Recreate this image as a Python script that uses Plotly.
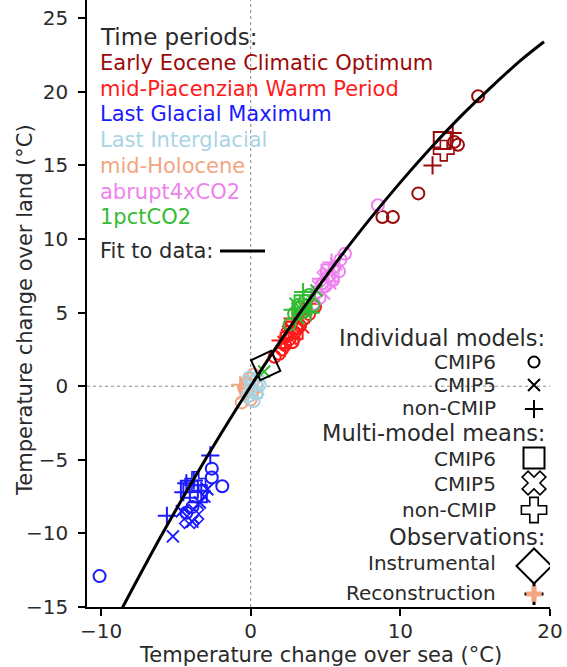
import plotly.graph_objects as go

# ---------------- DATA ----------------
# Fit to data line
fit_sea = [-8.6, -6, -4, -2, 0, 2, 4, 6, 8, 10, 12, 14, 16, 18, 19.6]
fit_land = [-15.1, -10.2, -6.65, -3.25, 0.0, 3.1, 6.0, 8.8, 11.4, 13.85, 16.15, 18.3, 20.25, 22.1, 23.4]

# Early Eocene Climatic Optimum
eeco_c6_sea = [15.2, 13.85, 13.6, 11.2, 8.8, 9.5]
eeco_c6_land = [19.7, 16.4, 16.6, 13.1, 11.5, 11.5]
eeco_nc_sea = [12.15, 13.5]
eeco_nc_land = [15.0, 17.2]
eeco_m6_sea = [12.8]
eeco_m6_land = [16.7]
eeco_mnc_sea = [12.9]
eeco_mnc_land = [16.0]

# mid-Piacenzian Warm Period
mpwp_c6_sea = [1.9, 2.3, 2.6, 2.9, 3.3, 3.6, 2.1, 2.8, 3.1, 2.4, 3.9, 4.3, 1.6]
mpwp_c6_land = [2.2, 2.8, 3.2, 3.6, 4.1, 4.6, 2.5, 3.0, 3.9, 3.4, 4.9, 5.4, 2.0]
mpwp_c5_sea = [2.2, 2.7, 3.2, 3.5, 2.5]
mpwp_c5_land = [3.0, 3.9, 4.3, 4.0, 3.7]
mpwp_nc_sea = [2.0, 2.8, 3.4, 3.0, 2.3, 4.0]
mpwp_nc_land = [3.1, 4.6, 4.9, 4.4, 2.6, 5.6]
mpwp_m6_sea = [2.9]
mpwp_m6_land = [3.8]
mpwp_m5_sea = [2.7]
mpwp_m5_land = [3.5]

# Last Glacial Maximum
lgm_c6_sea = [-2.6, -2.6, -1.9, -10.1, -3.9, -4.3]
lgm_c6_land = [-5.6, -6.2, -6.8, -12.9, -8.2, -8.6]
lgm_c5_sea = [-5.2, -3.4, -3.1, -4.6, -3.9, -2.9]
lgm_c5_land = [-10.2, -7.9, -7.5, -8.5, -9.2, -7.0]
lgm_nc_sea = [-2.7, -5.6, -4.3, -4.5, -3.8, -3.3]
lgm_nc_land = [-4.7, -8.8, -6.6, -7.2, -6.4, -7.1]
lgm_m6_sea = [-4.1, -3.5]
lgm_m6_land = [-7.0, -7.3]
lgm_m5_sea = [-4.1, -3.8]
lgm_m5_land = [-9.0, -8.7]
lgm_mnc_sea = [-3.7]
lgm_mnc_land = [-6.5]

# Last Interglacial
lig_c6_sea = [0.1, 0.4, -0.2, 0.6, 0.2, -0.1]
lig_c6_land = [0.3, -0.5, -0.7, 0.1, -1.0, 0.6]
lig_c5_sea = [0.5, 0.0]
lig_c5_land = [-0.2, -0.3]
lig_nc_sea = [0.3]
lig_nc_land = [0.7]
lig_m6_sea = [0.2]
lig_m6_land = [-0.2]

# mid-Holocene
mh_c6_sea = [-0.4, -0.1, 0.2, -0.6, 0.0, -0.3]
mh_c6_land = [-0.2, 0.5, 0.8, -1.1, -0.9, 0.2]
mh_c5_sea = [-0.5, 0.1]
mh_c5_land = [-0.5, 0.3]
mh_nc_sea = [-0.7, 0.2]
mh_nc_land = [0.1, -0.4]
mh_m6_sea = [-0.1]
mh_m6_land = [-0.1]
mh_m5_sea = [0.0]
mh_m5_land = [0.0]

# abrupt4xCO2
a4x_c6_sea = [4.4, 4.8, 5.2, 5.6, 6.0, 6.3, 5.0, 5.5, 4.6, 5.9, 8.5, 4.2]
a4x_c6_land = [6.4, 7.0, 7.5, 8.1, 8.6, 9.0, 6.8, 7.2, 6.0, 7.8, 12.3, 5.6]
a4x_c5_sea = [4.5, 5.1, 5.7, 4.9, 5.3]
a4x_c5_land = [6.8, 7.8, 8.3, 6.3, 7.0]
a4x_nc_sea = [5.4, 4.7]
a4x_nc_land = [8.4, 7.3]
a4x_m6_sea = [5.3]
a4x_m6_land = [7.7]
a4x_m5_sea = [5.1]
a4x_m5_land = [7.4]

# 1pctCO2
p1_c6_sea = [2.9, 3.3, 3.6, 3.9, 3.4, 4.2, 2.6]
p1_c6_land = [4.9, 5.4, 5.8, 6.2, 5.0, 5.5, 4.2]
p1_c5_sea = [3.0, 3.7, 4.4, 3.2, 0.9]
p1_c5_land = [5.6, 5.2, 6.5, 4.6, 1.0]
p1_nc_sea = [3.5, 2.8, 4.0]
p1_nc_land = [6.4, 5.2, 5.0]
p1_m6_sea = [3.5]
p1_m6_land = [5.6]
p1_m5_sea = [3.4]
p1_m5_land = [5.3]

# Observations: instrumental
obs_sea = [1.0]
obs_land = [1.4]

x_ticks = [-10, 0, 10, 20]
y_ticks = [-15, -10, -5, 0, 5, 10, 15, 20, 25]

period_names = ["Early Eocene Climatic Optimum", "mid-Piacenzian Warm Period",
                "Last Glacial Maximum", "Last Interglacial", "mid-Holocene",
                "abrupt4xCO2", "1pctCO2"]
period_colors = ["#9a0a0a", "#ff1a1a", "#1a1aff", "#aad4e4", "#f4a582",
                 "#ee82ee", "#33bb33"]

# ---------------- FIGURE ----------------
W, H = 567, 667
L, R, T, B = 87, 17, 0, 60
PW, PH = W - L - R, H - T - B


def px(xp):
    return (xp - L) / PW


def py(yp):
    return (H - B - yp) / PH


fig = go.Figure()

STY = {
    "c6": dict(symbol="circle-open", size=12, lw=2),
    "c5": dict(symbol="x-thin-open", size=12, lw=2),
    "nc": dict(symbol="cross-thin-open", size=13, lw=2),
    "m6": dict(symbol="square-open", size=17, lw=2),
    "m5": dict(symbol="x-open", size=17, lw=1.6),
    "mnc": dict(symbol="cross-open", size=17, lw=1.6),
}


def add(xs, ys, kind, color):
    s = STY[kind]
    fig.add_trace(go.Scatter(
        x=xs, y=ys, mode="markers", showlegend=False, hoverinfo="skip",
        marker=dict(symbol=s["symbol"], size=s["size"], color=color,
                    line=dict(width=s["lw"], color=color))))


groups = [
    (0, [("c6", eeco_c6_sea, eeco_c6_land), ("nc", eeco_nc_sea, eeco_nc_land),
         ("m6", eeco_m6_sea, eeco_m6_land), ("mnc", eeco_mnc_sea, eeco_mnc_land)]),
    (1, [("c6", mpwp_c6_sea, mpwp_c6_land), ("c5", mpwp_c5_sea, mpwp_c5_land),
         ("nc", mpwp_nc_sea, mpwp_nc_land), ("m6", mpwp_m6_sea, mpwp_m6_land),
         ("m5", mpwp_m5_sea, mpwp_m5_land)]),
    (2, [("c6", lgm_c6_sea, lgm_c6_land), ("c5", lgm_c5_sea, lgm_c5_land),
         ("nc", lgm_nc_sea, lgm_nc_land), ("m6", lgm_m6_sea, lgm_m6_land),
         ("m5", lgm_m5_sea, lgm_m5_land), ("mnc", lgm_mnc_sea, lgm_mnc_land)]),
    (4, [("c6", mh_c6_sea, mh_c6_land), ("c5", mh_c5_sea, mh_c5_land),
         ("nc", mh_nc_sea, mh_nc_land), ("m6", mh_m6_sea, mh_m6_land),
         ("m5", mh_m5_sea, mh_m5_land)]),
    (3, [("c6", lig_c6_sea, lig_c6_land), ("c5", lig_c5_sea, lig_c5_land),
         ("nc", lig_nc_sea, lig_nc_land), ("m6", lig_m6_sea, lig_m6_land)]),
    (5, [("c6", a4x_c6_sea, a4x_c6_land), ("c5", a4x_c5_sea, a4x_c5_land),
         ("nc", a4x_nc_sea, a4x_nc_land), ("m6", a4x_m6_sea, a4x_m6_land),
         ("m5", a4x_m5_sea, a4x_m5_land)]),
    (6, [("c6", p1_c6_sea, p1_c6_land), ("c5", p1_c5_sea, p1_c5_land),
         ("nc", p1_nc_sea, p1_nc_land), ("m6", p1_m6_sea, p1_m6_land),
         ("m5", p1_m5_sea, p1_m5_land)]),
]
for idx, items in groups:
    for kind, xs, ys in items:
        add(xs, ys, kind, period_colors[idx])

# instrumental observation
fig.add_trace(go.Scatter(
    x=obs_sea, y=obs_land, mode="markers", showlegend=False, hoverinfo="skip",
    marker=dict(symbol="diamond-open", size=24, angle=20, color="black",
                line=dict(width=2, color="black"))))

# fit line
fig.add_trace(go.Scatter(x=fit_sea, y=fit_land, mode="lines", showlegend=False,
                         hoverinfo="skip", line=dict(color="black", width=3,
                                                     shape="spline")))

# ---------------- custom legend (overlay axes in plot-fraction units) -------
leg_x = px(534)
leg_items = [
    ("circle-open", 11, 2, 362),
    ("x-thin-open", 12, 2, 385),
    ("cross-thin-open", 13, 2, 409),
    ("square-open", 21, 2, 458),
    ("x-open", 21, 1.6, 483),
    ("cross-open", 21, 1.6, 510),
    ("diamond-open", 27, 2, 566),
]
for sym, size, lw, yp in leg_items:
    fig.add_trace(go.Scatter(
        x=[leg_x], y=[py(yp)], xaxis="x2", yaxis="y2", mode="markers",
        showlegend=False, hoverinfo="skip",
        marker=dict(symbol=sym, size=size, color="black",
                    line=dict(width=lw, color="black"))))
# reconstruction sample: salmon cross with black error-bar tips
fig.add_trace(go.Scatter(
    x=[leg_x], y=[py(594)], xaxis="x2", yaxis="y2", mode="markers",
    showlegend=False, hoverinfo="skip",
    error_x=dict(type="constant", value=9.5 / PW, color="black", thickness=3, width=0),
    error_y=dict(type="constant", value=11 / PH, color="black", thickness=3, width=0),
    marker=dict(symbol="cross", size=13, color="#f4a582", line=dict(width=0))))

FONT = "DejaVu Sans"
TXT = "#2a2a2a"
ann = []
ann.append(dict(x=px(99), y=py(37), text="Time periods:", font=dict(size=23, color=TXT)))
for i, (name, col) in enumerate(zip(period_names, period_colors)):
    ann.append(dict(x=px(99), y=py(63 + 25.7 * i), text=name,
                    font=dict(size=21, color=col)))
ann.append(dict(x=px(99), y=py(251), text="Fit to data:", font=dict(size=21, color=TXT)))
for a in ann:
    a.update(xref="paper", yref="paper", xanchor="left", yanchor="middle",
             showarrow=False, borderpad=0)

right_txt = [
    ("Individual models:", 338, 546, 22.5),
    ("CMIP6", 362, 497, 20),
    ("CMIP5", 385, 497, 20),
    ("non-CMIP", 408, 497, 20),
    ("Multi-model means:", 433, 546, 22.5),
    ("CMIP6", 459, 497, 20),
    ("CMIP5", 484, 497, 20),
    ("non-CMIP", 510, 497, 20),
    ("Observations:", 537, 546, 22.5),
    ("Instrumental", 563, 497, 20),
    ("Reconstruction", 593, 497, 20),
]
for text, yp, xr, fs in right_txt:
    ann.append(dict(x=px(xr), y=py(yp), text=text, xref="paper", yref="paper",
                    xanchor="right", yanchor="middle", showarrow=False, borderpad=0,
                    font=dict(size=fs, color=TXT)))

# axis titles as annotations
ann.append(dict(x=px(25), y=py(310), xref="paper", yref="paper", showarrow=False,
                text="Temperature change over land (\u00b0C)", textangle=-90,
                xanchor="center", yanchor="middle", borderpad=0,
                font=dict(size=21, color=TXT)))
ann.append(dict(x=px(320), y=py(655), xref="paper", yref="paper", showarrow=False,
                text="Temperature change over sea (\u00b0C)",
                xanchor="center", yanchor="middle", borderpad=0,
                font=dict(size=21, color=TXT)))

shapes = [
    dict(type="line", xref="x", yref="paper", x0=0, x1=0, y0=0, y1=1,
         line=dict(color="#888888", width=1, dash="dot"), layer="below"),
    dict(type="line", xref="paper", yref="y", x0=0, x1=1, y0=0, y1=0,
         line=dict(color="#888888", width=1, dash="dot"), layer="below"),
    dict(type="line", xref="paper", yref="paper", x0=px(220), x1=px(265),
         y0=py(251), y1=py(251), line=dict(color="black", width=3)),
]

axis_common = dict(showgrid=False, zeroline=False, showline=True, linecolor="black",
                   linewidth=1.5, ticks="outside", ticklen=7, tickwidth=1.5,
                   tickcolor="black", tickfont=dict(size=20, color=TXT, family=FONT),
                   mirror=False)

fig.update_layout(
    width=W, height=H, margin=dict(l=L, r=R, t=T, b=B),
    paper_bgcolor="white", plot_bgcolor="white",
    font=dict(family=FONT, color=TXT),
    showlegend=False,
    xaxis=dict(range=[-10.94, 20.0], tickvals=x_ticks,
               ticktext=["\u221210", "0", "10", "20"],
               ticklabelstandoff=-2,
               **axis_common),
    yaxis=dict(range=[-15.0, 26.24], tickvals=y_ticks,
               ticktext=[("\u2212" + str(-v)) if v < 0 else str(v) for v in y_ticks],
               ticklabelstandoff=6,
               **axis_common),
    xaxis2=dict(range=[0, 1], overlaying="x", visible=False, fixedrange=True),
    yaxis2=dict(range=[0, 1], overlaying="y", visible=False, fixedrange=True),
    annotations=ann,
    shapes=shapes,
)

fig.write_html("out.html")
